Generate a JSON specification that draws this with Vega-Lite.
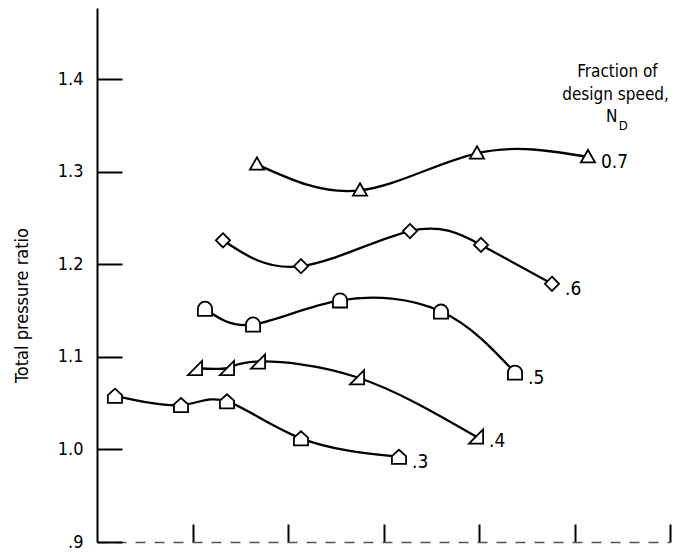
{
  "$schema": "https://vega.github.io/schema/vega-lite/v6.json",
  "autosize": {"type": "none"},
  "padding": {"left": 97, "top": 8, "right": 5, "bottom": 13},
  "width": 573,
  "height": 534,
  "background": "white",
  "config": {
    "view": {"stroke": null},
    "font": "DejaVu Sans Condensed, Liberation Sans Narrow, Roboto, sans-serif"
  },
  "datasets": {
    "curves": [
      {"speed": "0.3", "flow": 0.188, "ratio": 1.058},
      {"speed": "0.3", "flow": 0.880, "ratio": 1.048},
      {"speed": "0.3", "flow": 1.361, "ratio": 1.052},
      {"speed": "0.3", "flow": 2.136, "ratio": 1.012},
      {"speed": "0.3", "flow": 3.162, "ratio": 0.992, "label": ".3"},
      {"speed": "0.4", "flow": 1.026, "ratio": 1.088},
      {"speed": "0.4", "flow": 1.361, "ratio": 1.088},
      {"speed": "0.4", "flow": 1.686, "ratio": 1.095},
      {"speed": "0.4", "flow": 2.723, "ratio": 1.078},
      {"speed": "0.4", "flow": 3.969, "ratio": 1.014, "label": ".4"},
      {"speed": "0.5", "flow": 1.131, "ratio": 1.152},
      {"speed": "0.5", "flow": 1.634, "ratio": 1.135},
      {"speed": "0.5", "flow": 2.545, "ratio": 1.161},
      {"speed": "0.5", "flow": 3.602, "ratio": 1.149},
      {"speed": "0.5", "flow": 4.377, "ratio": 1.083, "label": ".5"},
      {"speed": "0.6", "flow": 1.319, "ratio": 1.226},
      {"speed": "0.6", "flow": 2.136, "ratio": 1.198},
      {"speed": "0.6", "flow": 3.277, "ratio": 1.236},
      {"speed": "0.6", "flow": 4.021, "ratio": 1.221},
      {"speed": "0.6", "flow": 4.764, "ratio": 1.179, "label": ".6"},
      {"speed": "0.7", "flow": 1.675, "ratio": 1.308},
      {"speed": "0.7", "flow": 2.754, "ratio": 1.280},
      {"speed": "0.7", "flow": 3.979, "ratio": 1.320},
      {"speed": "0.7", "flow": 5.141, "ratio": 1.316, "label": "0.7"}
    ],
    "heading": [
      {"flow": 5.45, "ratio": 1.4076, "text": "Fraction of"},
      {"flow": 5.43, "ratio": 1.3827, "text": "design speed,"},
      {"flow": 5.39, "ratio": 1.359, "text": "N"}
    ],
    "subscript": [
      {"flow": 5.51, "ratio": 1.350, "text": "D"}
    ]
  },
  "layer": [
    {
      "data": {"name": "curves"},
      "mark": {"type": "line", "interpolate": "natural", "color": "black", "strokeWidth": 2.3},
      "encoding": {
        "x": {
          "field": "flow", "type": "quantitative",
          "scale": {"domain": [0, 6], "nice": false, "zero": false},
          "axis": {
            "values": [1, 2, 3, 4, 5, 6],
            "labels": false,
            "title": null,
            "grid": false,
            "tickSize": -18,
            "tickColor": "black",
            "tickWidth": 2,
            "domainColor": "#555",
            "domainWidth": 1.5,
            "domainDash": [10, 9]
          }
        },
        "y": {
          "field": "ratio", "type": "quantitative",
          "scale": {"domain": [0.9, 1.477], "nice": false, "zero": false},
          "axis": {
            "values": [0.9, 1.0, 1.1, 1.2, 1.3, 1.4],
            "labelExpr": "datum.value < 0.95 ? '.9' : format(datum.value, '.1f')",
            "title": "Total pressure ratio",
            "titleFontSize": 18,
            "titleFontWeight": "normal",
            "titleColor": "black",
            "titleX": -75,
            "titleY": 297,
            "titleBaseline": "middle",
            "titleAngle": -90,
            "labelFontSize": 18,
            "labelColor": "black",
            "labelPadding": 39,
            "grid": false,
            "tickSize": -25,
            "tickColor": "black",
            "tickWidth": 2,
            "domainColor": "black",
            "domainWidth": 2
          }
        },
        "detail": {"field": "speed"}
      }
    },
    {
      "data": {"name": "curves"},
      "mark": {"type": "point", "filled": true, "fill": "white", "stroke": "black", "strokeWidth": 1.8, "opacity": 1},
      "encoding": {
        "x": {"field": "flow", "type": "quantitative"},
        "y": {"field": "ratio", "type": "quantitative"},
        "shape": {
          "field": "speed", "type": "nominal", "legend": null,
          "scale": {
            "domain": ["0.3", "0.4", "0.5", "0.6", "0.7"],
            "range": [
              "M-1,1L1,1L1,-0.1L0,-1L-1,-0.1Z",
              "M-1,1L1,1L1,-1Z",
              "M-1,1L1,1L1,0A1,1,0,0,0,-1,0Z",
              "M0,-1L1,0L0,1L-1,0Z",
              "M0,-1L1,0.75L-1,0.75Z"
            ]
          }
        },
        "size": {"value": 200}
      }
    },
    {
      "data": {"name": "curves"},
      "transform": [{"filter": "datum.label != null"}],
      "mark": {"type": "text", "align": "left", "baseline": "middle", "dx": 13, "dy": 5, "fontSize": 19, "color": "black"},
      "encoding": {
        "x": {"field": "flow", "type": "quantitative"},
        "y": {"field": "ratio", "type": "quantitative"},
        "text": {"field": "label"}
      }
    },
    {
      "data": {"name": "heading"},
      "mark": {"type": "text", "align": "center", "baseline": "middle", "fontSize": 17, "color": "black"},
      "encoding": {
        "x": {"field": "flow", "type": "quantitative"},
        "y": {"field": "ratio", "type": "quantitative"},
        "text": {"field": "text"}
      }
    },
    {
      "data": {"name": "subscript"},
      "mark": {"type": "text", "align": "center", "baseline": "middle", "fontSize": 13, "color": "black"},
      "encoding": {
        "x": {"field": "flow", "type": "quantitative"},
        "y": {"field": "ratio", "type": "quantitative"},
        "text": {"field": "text"}
      }
    }
  ]
}
